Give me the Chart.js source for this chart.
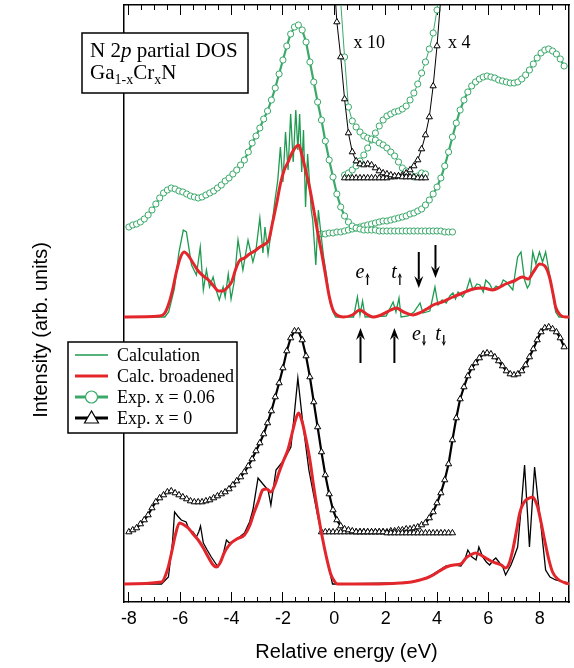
<!DOCTYPE html>
<html>
<head>
<meta charset="utf-8">
<style>
  html, body { margin: 0; padding: 0; background: #fff; }
  canvas { display: block; }
</style>
</head>
<body>
<canvas id="chart" width="574" height="668"></canvas>
<script src="https://cdn.jsdelivr.net/npm/chart.js@4"></script>
<script>
// energy axis (eV) and tick positions
const xMin = -8.19, xMax = 9.14;
const xMajorTicks = [-8, -6, -4, -2, 0, 2, 4, 6, 8];
const xMinorTicks = [-8, -7.5, -7, -6.5, -6, -5.5, -5, -4.5, -4, -3.5, -3, -2.5, -2, -1.5, -1, -0.5,
  0, 0.5, 1, 1.5, 2, 2.5, 3, 3.5, 4, 4.5, 5, 5.5, 6, 6.5, 7, 7.5, 8, 8.5, 9];
const yRange = [0, 597]; // arb. units, curves are offset vertically

// measured spectra: start energy + values on a 0.15 eV grid
const gridStep = 0.15;

// x = 0.06, emission (starts -8.0 eV)
const expUpEmis = [375, 377, 378, 380, 383, 387, 392, 398, 404, 409,
  412, 414, 413, 411, 410, 408, 406, 405, 404, 405,
  407, 409, 411, 414, 417, 421, 424, 428, 432, 437,
  442, 450, 459, 466, 474, 483, 491, 502, 514, 528,
  542, 556, 568, 575, 577, 572, 560, 540, 520, 500,
  482, 461, 442, 425, 408, 395, 386, 380, 376, 374,
  373, 372, 372, 372, 372, 371, 371, 371, 371, 371,
  371, 371, 371, 371, 371, 371, 371, 371, 371, 371,
  371, 371, 370, 370, 370];
// x = 0.06, absorption (starts -0.5 eV)
const expUpAbs = [368, 368, 369, 369, 370, 370, 371, 372, 373, 374,
  375, 376, 377, 378, 379, 380, 381, 381, 382, 383,
  384, 385, 386, 388, 389, 391, 393, 397, 402, 408,
  415, 424, 436, 450, 465, 479, 492, 502, 510, 516,
  520, 523, 525, 526, 525, 524, 522, 521, 520, 519,
  519, 520, 523, 527, 532, 538, 544, 549, 552, 553,
  551, 548, 543, 536];
// x = 0, emission (starts -8.0 eV)
const expLoEmis = [70, 72, 74, 78, 82, 87, 94, 100, 104, 107,
  110, 111, 109, 107, 105, 103, 101, 100, 100, 100,
  101, 102, 104, 106, 108, 110, 113, 117, 121, 125,
  130, 136, 143, 151, 159, 168, 179, 191, 205, 219,
  234, 251, 264, 271, 271, 262, 246, 225, 200, 175,
  150, 127, 108, 92, 82, 76, 73, 72, 71, 70,
  70, 70, 70, 70, 70, 70, 70, 69, 69, 69,
  69, 69, 69, 69, 69, 69, 69, 69, 69, 69,
  69, 69, 69, 69, 69];
// x = 0, absorption (starts -0.5 eV)
const expLoAbs = [70, 70, 70, 70, 70, 70, 70, 70, 70, 70,
  70, 70, 70, 70, 70, 70, 70, 70, 71, 71,
  72, 72, 73, 73, 74, 75, 77, 79, 84, 90,
  99, 109, 122, 138, 162, 184, 203, 215, 226, 234,
  239, 244, 248, 249, 248, 245, 241, 236, 231, 228,
  227, 228, 231, 237, 245, 253, 262, 270, 274, 275,
  273, 270, 264, 255];

// magnified band-gap insets
const insetUpEmis10 = [660, 600, 545, 495, 481, 475, 470, 466, 464, 463, 462, 459,
  457, 454, 450, 446, 440, 434, 431, 428, 425, 426, 429, 428];          // from 0.10 eV
const insetUpAbs4 = [427, 429, 432, 436, 441, 447, 454, 462, 469, 476, 482, 486, 488,
  490, 491, 493, 496, 502, 509, 518, 529, 540, 553, 569, 592, 620];     // from 0.40 eV
const insetLoEmis10 = [640, 580, 545, 503, 469, 450, 441, 438, 437, 438, 437, 434, 431,
  429, 428, 427, 426, 426, 425, 425, 425, 425, 424, 424, 424];          // from -0.05 eV
const insetLoAbs4 = [424, 424, 424, 424, 424, 424, 424, 424, 424, 424, 424, 424, 425,
  425, 426, 427, 429, 432, 436, 442, 453, 467, 485, 516, 556, 605];     // from 0.40 eV

// calculated N 2p partial DOS, [energy, intensity]
const calcUp = [[-8.3, 285], [-6.6, 285], [-6.45, 290], [-6.23, 313], [-6.05, 350], [-5.88, 372], [-5.76, 370],
  [-5.56, 337], [-5.37, 327], [-5.22, 355], [-5.1, 312], [-4.98, 332], [-4.86, 315], [-4.72, 325], [-4.6, 312],
  [-4.48, 302], [-4.33, 315], [-4.25, 305], [-4.13, 328], [-4.02, 303], [-3.9, 320], [-3.75, 362], [-3.56, 332],
  [-3.36, 362], [-3.17, 340], [-3.05, 352], [-2.9, 384], [-2.78, 349], [-2.7, 375], [-2.58, 348], [-2.45, 372],
  [-2.32, 400], [-2.2, 422], [-2.1, 455], [-2.0, 420], [-1.9, 470], [-1.8, 432], [-1.7, 488], [-1.6, 440],
  [-1.5, 492], [-1.42, 452], [-1.35, 488], [-1.27, 430], [-1.2, 472], [-1.12, 395], [-1.04, 448], [-0.97, 422],
  [-0.9, 392], [-0.84, 382], [-0.72, 337], [-0.62, 392], [-0.52, 368], [-0.42, 346], [-0.3, 326], [-0.17, 300],
  [-0.05, 290], [0.05, 285], [0.75, 285], [0.9, 305], [1.0, 287], [1.1, 301], [1.2, 285], [2.02, 286],
  [2.29, 300], [2.4, 290], [2.52, 304], [2.6, 285], [2.87, 286], [3.1, 290], [3.34, 299], [3.45, 289],
  [3.72, 291], [3.92, 315], [4.04, 297], [4.2, 302], [4.36, 299], [4.5, 306], [4.62, 309], [4.72, 303],
  [4.82, 310], [5.0, 305], [5.15, 312], [5.28, 323], [5.4, 312], [5.55, 318], [5.67, 317], [5.8, 310],
  [5.9, 322], [6.05, 318], [6.17, 312], [6.3, 316], [6.44, 314], [6.58, 322], [6.7, 320], [6.83, 316],
  [6.95, 312], [7.05, 330], [7.14, 345], [7.27, 350], [7.41, 322], [7.52, 314], [7.61, 318], [7.73, 350],
  [7.85, 338], [7.99, 350], [8.11, 340], [8.23, 350], [8.42, 322], [8.62, 290], [8.75, 285], [9.3, 285]];
const calcUpBroad = [[-8.3, 285], [-6.8, 286], [-6.6, 289], [-6.45, 298], [-6.3, 312], [-6.15, 330], [-6.0, 344],
  [-5.85, 350], [-5.7, 347], [-5.5, 339], [-5.3, 331], [-5.1, 326], [-4.9, 322], [-4.7, 316], [-4.5, 311],
  [-4.35, 311], [-4.15, 315], [-4.0, 320], [-3.85, 332], [-3.7, 341], [-3.5, 344], [-3.3, 348], [-3.1, 351],
  [-2.9, 355], [-2.7, 358], [-2.55, 362], [-2.4, 380], [-2.25, 398], [-2.1, 418], [-1.95, 432], [-1.8, 440],
  [-1.65, 449], [-1.5, 455], [-1.39, 457], [-1.25, 446], [-1.1, 430], [-0.95, 413], [-0.8, 392], [-0.65, 370],
  [-0.5, 350], [-0.35, 328], [-0.2, 306], [-0.05, 292], [0.1, 287], [0.36, 285], [0.7, 287], [1.0, 292],
  [1.25, 288], [1.5, 285], [1.9, 288], [2.2, 292], [2.41, 294], [2.7, 290], [3.07, 287], [3.4, 290],
  [3.6, 293], [3.85, 297], [4.2, 300], [4.62, 305], [5.0, 309], [5.4, 313], [5.8, 314], [6.17, 312],
  [6.45, 315], [6.67, 318], [7.0, 321], [7.33, 325], [7.55, 323], [7.75, 330], [8.0, 338], [8.2, 336],
  [8.38, 325], [8.52, 308], [8.62, 295], [8.8, 287], [9.0, 285], [9.3, 285]];
const calcLo = [[-8.3, 18], [-6.73, 18], [-6.46, 25], [-6.3, 60], [-6.22, 90], [-6.1, 86], [-5.96, 82], [-5.77, 80],
  [-5.65, 72], [-5.5, 70], [-5.37, 65], [-5.28, 70], [-5.21, 76], [-5.1, 59], [-4.95, 52], [-4.79, 45],
  [-4.53, 35], [-4.35, 45], [-4.2, 62], [-4.09, 59], [-3.83, 62], [-3.5, 69], [-3.3, 80], [-3.17, 92],
  [-2.97, 124], [-2.78, 118], [-2.58, 112], [-2.47, 97], [-2.27, 132], [-1.96, 142], [-1.69, 155], [-1.58, 182],
  [-1.42, 224], [-1.24, 182], [-0.99, 132], [-0.67, 89], [-0.34, 49], [-0.07, 18], [0.2, 18], [2.5, 19],
  [3.0, 20], [3.3, 22], [3.58, 24], [3.85, 28], [4.1, 32], [4.36, 36], [4.7, 37], [4.93, 36], [5.08, 42],
  [5.2, 52], [5.36, 45], [5.52, 42], [5.63, 55], [5.78, 45], [5.92, 40], [6.05, 37], [6.2, 42], [6.29, 44],
  [6.44, 39], [6.55, 36], [6.67, 27], [6.88, 37], [7.0, 45], [7.14, 55], [7.28, 95], [7.41, 137], [7.52, 90],
  [7.6, 55], [7.7, 95], [7.8, 135], [7.92, 105], [8.04, 78], [8.23, 32], [8.4, 25], [8.62, 22], [9.3, 18]];
const calcLoBroad = [[-8.3, 18], [-6.73, 20], [-6.5, 32], [-6.34, 49], [-6.2, 66], [-6.03, 79], [-5.85, 77],
  [-5.69, 74], [-5.5, 68], [-5.3, 62], [-5.1, 54], [-4.91, 45], [-4.75, 38], [-4.6, 35], [-4.45, 39],
  [-4.29, 49], [-4.15, 55], [-4.02, 59], [-3.8, 63], [-3.5, 67], [-3.3, 76], [-3.13, 89], [-2.95, 101],
  [-2.79, 112], [-2.63, 113], [-2.47, 110], [-2.3, 118], [-2.16, 129], [-2.0, 140], [-1.81, 152], [-1.65, 168],
  [-1.5, 183], [-1.39, 189], [-1.25, 180], [-1.12, 165], [-0.95, 142], [-0.8, 115], [-0.63, 88], [-0.47, 65],
  [-0.3, 44], [-0.14, 28], [0.0, 21], [0.12, 18], [1.5, 18], [2.57, 19], [3.0, 20], [3.34, 22], [3.6, 24],
  [3.85, 27], [4.1, 31], [4.36, 35], [4.65, 37], [4.93, 38], [5.13, 44], [5.3, 47], [5.5, 49], [5.7, 47],
  [5.9, 44], [6.1, 41], [6.29, 39], [6.5, 37], [6.67, 34], [6.8, 38], [6.95, 52], [7.1, 72], [7.22, 89],
  [7.35, 98], [7.46, 102], [7.6, 104], [7.72, 105], [7.85, 100], [7.92, 95], [8.05, 80], [8.19, 62],
  [8.35, 43], [8.5, 30], [8.7, 23], [9.0, 19], [9.3, 18]];

// annotations: [energy, from, to] for the big arrows, label anchors
const arrowsDown = [[3.29, 350, 314], [3.94, 357, 324]];
const arrowsUp = [[1.02, 239, 274], [2.34, 239, 274]];
const stateLabels = [['e', 0.83, 324, 1], ['t', 2.22, 324, 1], ['e', 3.03, 262, -1], ['t', 3.93, 262, -1]];
const scaleLabels = [['x 10', 0.75, 554], ['x 4', 4.43, 554]];

const GREEN = '#1f9a50', GREEN_EXP = '#3aa96a', RED = '#e3262b', BLACK = '#000';
const SANS = '"Liberation Sans", Arial, sans-serif';
const SERIF = '"Liberation Serif", "Times New Roman", serif';

function onGrid(start, vals) {
  return vals.map((v, i) => ({ x: +(start + i * gridStep).toFixed(2), y: v }));
}
function pts(arr) {
  return arr.map(p => ({ x: p[0], y: p[1] }));
}

function expSet(data, color, style, lineW) {
  return {
    data: data, borderColor: color, borderWidth: lineW, showLine: true, tension: 0,
    pointStyle: style, pointRadius: style === 'triangle' ? 3.6 : 3.1,
    pointBorderColor: color, pointBackgroundColor: '#fff', pointBorderWidth: 1, clip: 0
  };
}

const datasets = [
  { data: pts(calcUpBroad), borderColor: RED, borderWidth: 3, pointRadius: 0, cubicInterpolationMode: 'monotone', clip: 0 },
  { data: pts(calcLoBroad), borderColor: RED, borderWidth: 3, pointRadius: 0, cubicInterpolationMode: 'monotone', clip: 0 },
  { data: pts(calcUp), borderColor: GREEN, borderWidth: 1.3, pointRadius: 0, tension: 0, clip: 0 },
  { data: pts(calcLo), borderColor: BLACK, borderWidth: 1.3, pointRadius: 0, tension: 0, clip: 0 },
  expSet(onGrid(-0.05, insetLoEmis10), BLACK, 'triangle', 1),
  expSet(onGrid(0.40, insetLoAbs4), BLACK, 'triangle', 1),
  expSet(onGrid(0.10, insetUpEmis10), GREEN_EXP, 'circle', 1),
  expSet(onGrid(0.40, insetUpAbs4), GREEN_EXP, 'circle', 1),
  expSet(onGrid(-8.0, expUpEmis), GREEN_EXP, 'circle', 2.2),
  expSet(onGrid(-0.5, expUpAbs), GREEN_EXP, 'circle', 2.2),
  expSet(onGrid(-8.0, expLoEmis), BLACK, 'triangle', 2.2),
  expSet(onGrid(-0.5, expLoAbs), BLACK, 'triangle', 2.2)
];

function drawArrow(ctx, x, y0, y1, head, halfW, lw) {
  const d = Math.sign(y1 - y0);
  ctx.lineWidth = lw;
  ctx.beginPath(); ctx.moveTo(x, y0); ctx.lineTo(x, y1 - d * head * 0.7); ctx.stroke();
  ctx.beginPath();
  ctx.moveTo(x, y1);
  ctx.lineTo(x - halfW, y1 - d * head);
  ctx.lineTo(x, y1 - d * head * 0.65);
  ctx.lineTo(x + halfW, y1 - d * head);
  ctx.closePath(); ctx.fill();
}

const overlay = {
  id: 'overlay',
  afterDraw(chart) {
    const ctx = chart.ctx;
    const xs = chart.scales.x, ys = chart.scales.y;
    ctx.save();
    ctx.fillStyle = '#000'; ctx.strokeStyle = '#000';

    // y axis title
    ctx.save();
    ctx.translate(41, 330);
    ctx.rotate(-Math.PI / 2);
    ctx.font = '20px ' + SANS;
    ctx.textAlign = 'center'; ctx.textBaseline = 'middle';
    ctx.fillText('Intensity (arb. units)', 0, 0);
    ctx.restore();

    // big arrows
    arrowsDown.concat(arrowsUp).forEach(a => {
      drawArrow(ctx, xs.getPixelForValue(a[0]), ys.getPixelForValue(a[1]), ys.getPixelForValue(a[2]), 12, 4.5, 2);
    });

    // e/t labels with spin arrows
    ctx.textAlign = 'left'; ctx.textBaseline = 'alphabetic';
    stateLabels.forEach(l => {
      const px = xs.getPixelForValue(l[1]), py = ys.getPixelForValue(l[2]);
      ctx.font = 'italic 20px ' + SERIF;
      ctx.fillText(l[0], px, py);
      const ax = px + ctx.measureText(l[0]).width + 3;
      if (l[3] > 0) drawArrow(ctx, ax, py + 7, py - 5, 5, 2.2, 1.3);
      else drawArrow(ctx, ax, py - 5, py + 6, 5, 2.2, 1.3);
    });

    // magnification labels
    ctx.font = '18px ' + SERIF;
    scaleLabels.forEach(l => {
      ctx.fillText(l[0], xs.getPixelForValue(l[1]), ys.getPixelForValue(l[2]));
    });

    // title box
    ctx.fillStyle = '#fff';
    ctx.fillRect(82, 33, 166, 60);
    ctx.lineWidth = 1.5;
    ctx.strokeRect(82, 33, 166, 60);
    ctx.fillStyle = '#000';
    let tx = 90;
    const parts1 = [['N 2', ''], ['p', 'italic '], [' partial DOS', '']];
    parts1.forEach(p => {
      ctx.font = p[1] + '21px ' + SERIF;
      ctx.fillText(p[0], tx, 57);
      tx += ctx.measureText(p[0]).width;
    });
    tx = 90;
    const parts2 = [['Ga', 21, 0], ['1-x', 14, 5], ['Cr', 21, 0], ['x', 14, 5], ['N', 21, 0]];
    parts2.forEach(p => {
      ctx.font = p[1] + 'px ' + SERIF;
      ctx.fillText(p[0], tx, 79 + p[2]);
      tx += ctx.measureText(p[0]).width;
    });

    // legend
    ctx.fillStyle = '#fff';
    ctx.fillRect(68, 342, 169, 91);
    ctx.strokeRect(68, 342, 169, 91);
    const rows = [
      ['Calculation', GREEN, 1.3, null],
      ['Calc. broadened', RED, 3, null],
      ['Exp. x = 0.06', GREEN_EXP, 3, 'circle'],
      ['Exp. x = 0', BLACK, 3, 'triangle']
    ];
    rows.forEach((r, i) => {
      const cy = 355 + i * 21;
      ctx.strokeStyle = r[1]; ctx.lineWidth = r[2];
      ctx.beginPath(); ctx.moveTo(75, cy); ctx.lineTo(108, cy); ctx.stroke();
      if (r[3]) {
        ctx.fillStyle = '#fff'; ctx.lineWidth = 1.2;
        ctx.beginPath();
        if (r[3] === 'circle') ctx.arc(91.5, cy, 6, 0, Math.PI * 2);
        else { ctx.moveTo(91.5, cy - 7); ctx.lineTo(84.5, cy + 5); ctx.lineTo(98.5, cy + 5); ctx.closePath(); }
        ctx.fill(); ctx.stroke();
      }
      ctx.fillStyle = '#000';
      ctx.font = '18px ' + SERIF;
      ctx.textBaseline = 'middle';
      ctx.fillText(r[0], 117, cy + 1);
    });
    ctx.restore();
  }
};

function tickAxis(position, ticks, len, weight, size, withBorder) {
  return {
    type: 'linear', position: position, min: xMin, max: xMax, weight: weight,
    afterBuildTicks: s => { s.ticks = ticks.map(v => ({ value: v })); },
    afterFit: s => { s.height = size; },
    ticks: { display: false },
    grid: { display: true, drawOnChartArea: false, drawTicks: true, tickLength: len, tickColor: '#000', tickWidth: 1 },
    border: { display: withBorder, color: '#000', width: 1.5 }
  };
}

new Chart(document.getElementById('chart'), {
  type: 'line',
  data: { datasets: datasets },
  plugins: [overlay],
  options: {
    responsive: false,
    animation: false,
    devicePixelRatio: 1,
    layout: { padding: 0 },
    plugins: { legend: { display: false }, tooltip: { enabled: false } },
    scales: {
      xMinor: tickAxis('bottom', xMinorTicks, -5, 0, 0, false),
      x: {
        type: 'linear', position: 'bottom', min: xMin, max: xMax, weight: 1,
        afterBuildTicks: s => { s.ticks = xMajorTicks.map(v => ({ value: v })); },
        afterFit: s => { s.height = 66; },
        ticks: { color: '#000', font: { family: SANS, size: 18 }, padding: 16, autoSkip: false, maxRotation: 0 },
        grid: { display: true, drawOnChartArea: false, drawTicks: true, tickLength: -10, tickColor: '#000', tickWidth: 1 },
        border: { display: true, color: '#000', width: 1.5 },
        title: { display: true, text: 'Relative energy (eV)', color: '#000', font: { family: SANS, size: 20 }, padding: { top: 0, bottom: 4 } }
      },
      xTopMinor: tickAxis('top', xMinorTicks, -5, 0, 0, false),
      xTop: tickAxis('top', xMajorTicks, -10, 1, 5, true),
      y: {
        type: 'linear', position: 'left', min: yRange[0], max: yRange[1],
        afterFit: s => { s.width = 124; },
        ticks: { display: false },
        grid: { display: false },
        border: { display: true, color: '#000', width: 1.5 }
      },
      y2: {
        type: 'linear', position: 'right', min: yRange[0], max: yRange[1],
        afterFit: s => { s.width = 3; },
        ticks: { display: false },
        grid: { display: false },
        border: { display: true, color: '#000', width: 1.5 }
      }
    }
  }
});
</script>
</body>
</html>
